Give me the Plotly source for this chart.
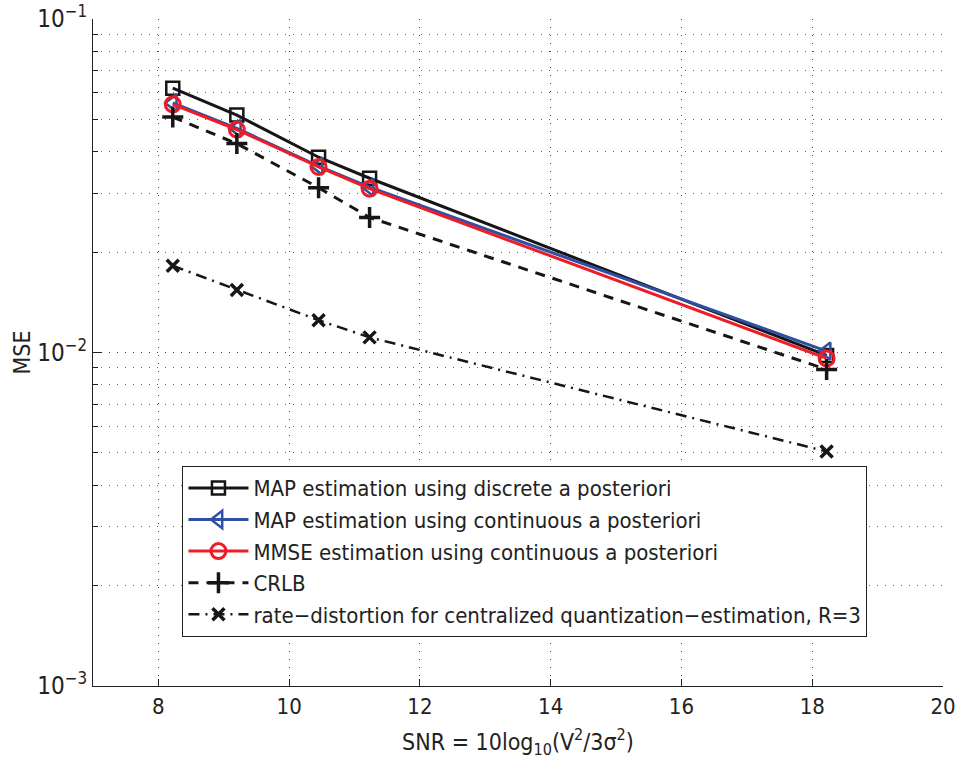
import plotly.graph_objects as go

snr = [8.22, 9.2, 10.45, 11.23, 18.22]
map_discrete = [0.0620, 0.0515, 0.0385, 0.0333, 0.0098]
map_continuous = [0.0560, 0.0470, 0.0362, 0.0313, 0.0101]
mmse_continuous = [0.0555, 0.0466, 0.0360, 0.0310, 0.0096]
crlb = [0.0508, 0.0423, 0.0312, 0.0254, 0.0089]
rate_distortion = [0.0182, 0.0154, 0.0125, 0.0111, 0.00505]

names = [
    "MAP estimation using discrete a posteriori",
    "MAP estimation using continuous a posteriori",
    "MMSE estimation using continuous a posteriori",
    "CRLB",
    "rate\u2212distortion for centralized quantization\u2212estimation, R=3",
]
x_ticks = [8, 10, 12, 14, 16, 18, 20]
y_ticks = [1e-3, 1e-2, 1e-1]
y_tick_text = ["10<sup>\u22123</sup>", "10<sup>\u22122</sup>", "10<sup>\u22121</sup>"]

BLUE = "#2e4fa3"
RED = "#ee1d25"
BLACK = "#161616"
FONT = "Liberation Sans Narrow, Arial Narrow, DejaVu Sans Condensed, Liberation Sans, Arial, sans-serif"
GRID_DASH = "1px,7px"

fig = go.Figure()
fig.add_trace(go.Scatter(
    x=snr, y=map_discrete, name=names[0], mode="lines+markers",
    line=dict(color=BLACK, width=3),
    marker=dict(symbol="square-open", size=13, color=BLACK, line=dict(width=2.5, color=BLACK)),
))
fig.add_trace(go.Scatter(
    x=snr, y=map_continuous, name=names[1], mode="lines+markers",
    line=dict(color=BLUE, width=3),
    marker=dict(symbol="triangle-left-open", size=15, color=BLUE, line=dict(width=2.5, color=BLUE)),
))
fig.add_trace(go.Scatter(
    x=snr, y=mmse_continuous, name=names[2], mode="lines+markers",
    line=dict(color=RED, width=3),
    marker=dict(symbol="circle-open", size=15, color=RED, line=dict(width=3, color=RED)),
))
fig.add_trace(go.Scatter(
    x=snr, y=crlb, name=names[3], mode="lines+markers",
    line=dict(color=BLACK, width=3, dash="10px,8px"),
    marker=dict(symbol="cross-thin", size=15, color=BLACK, line=dict(width=3.5, color=BLACK)),
))
fig.add_trace(go.Scatter(
    x=snr, y=rate_distortion, name=names[4], mode="lines+markers",
    line=dict(color=BLACK, width=2.5, dash="11px,6px,2px,6px"),
    marker=dict(symbol="x-thin", size=12, color=BLACK, line=dict(width=3.5, color=BLACK)),
))

minor_vals = [m * 10.0 ** e for e in (-3, -2) for m in range(2, 10)]

fig.update_layout(
    width=956, height=761,
    margin=dict(l=93, r=13, t=19, b=75),
    paper_bgcolor="white", plot_bgcolor="white",
    font=dict(family=FONT, size=19, color="#222222"),
    showlegend=True,
    legend=dict(
        x=0.105, y=0.33, xanchor="left", yanchor="top",
        bgcolor="white", bordercolor="#222222", borderwidth=1.2,
        font=dict(family=FONT, size=22, color="#222222"),
        tracegroupgap=0, itemwidth=60,
    ),
    xaxis=dict(
        range=[7, 20], tickvals=x_ticks, ticks="inside", ticklen=7, tickcolor="#222",
        showline=True, linecolor="#222", linewidth=1.2, mirror=False,
        showgrid=True, gridcolor="#444", griddash=GRID_DASH, gridwidth=1,
        zeroline=False, automargin=False,
        title=dict(text="SNR = 10log<sub>10</sub>(V<sup>2</sup>/3\u03c3<sup>2</sup>)", standoff=16,
                   font=dict(family=FONT, size=23)),
        tickfont=dict(family=FONT, size=22),
    ),
    yaxis=dict(
        type="log", range=[-3, -1], tickvals=y_ticks, ticktext=y_tick_text,
        ticks="inside", ticklen=9, tickcolor="#222",
        showline=True, linecolor="#222", linewidth=1.2, mirror=False,
        showgrid=True, gridcolor="#444", griddash=GRID_DASH, gridwidth=1,
        zeroline=False, automargin=False,
        minor=dict(tickvals=minor_vals, ticks="inside", ticklen=5, tickcolor="#222",
                   showgrid=True, gridcolor="#666", griddash=GRID_DASH, gridwidth=1),
        title=dict(text="MSE", standoff=0, font=dict(family=FONT, size=23)),
        tickfont=dict(family=FONT, size=24),
    ),
)

fig.write_html("out.html")
